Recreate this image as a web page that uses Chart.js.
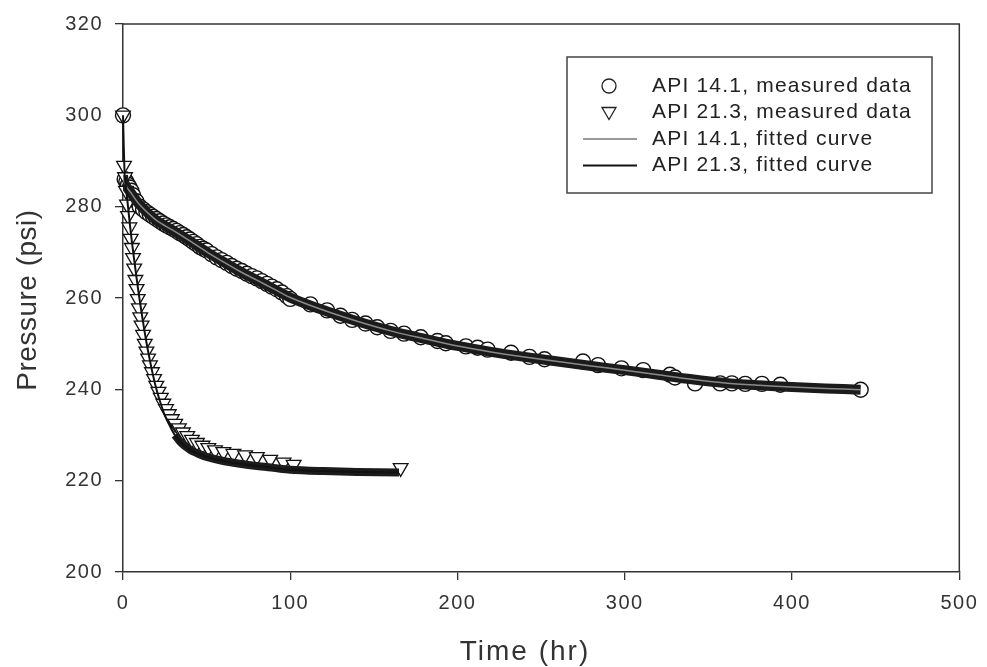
<!DOCTYPE html>
<html>
<head>
<meta charset="utf-8">
<script src="https://cdn.jsdelivr.net/npm/chart.js@4.4.1/dist/chart.umd.min.js"></script>
<style>
  html, body { margin: 0; padding: 0; background: #fff; }
  #wrap { width: 987px; height: 667px; }
</style>
</head>
<body>
<div id="wrap"><canvas id="chart" width="987" height="667"></canvas></div>
<script>
// Series names, in legend order
const legendLabels = [
  'API 14.1, measured data',
  'API 21.3, measured data',
  'API 14.1, fitted curve',
  'API 21.3, fitted curve'
];
const xTitle = 'Time (hr)';
const yTitle = 'Pressure (psi)';

// API 14.1 measured (time hr, pressure psi)
const api14Time = [0, 1, 2, 3, 4, 5, 6, 8, 10, 12, 14, 16, 18, 20, 22, 24, 26, 28, 30, 32, 34, 36, 38, 40, 42, 44, 46, 48, 50,
  53, 56, 59, 62, 65, 68, 71, 74, 77, 80, 83, 86, 89, 92, 95, 98, 100, 112, 122, 130, 137, 145, 152, 160, 168, 178, 188, 193,
  205, 212, 218, 232, 243, 252, 275, 284, 298, 311, 327, 330, 342, 357, 364, 372, 382, 393, 441];
const api14Pressure = [300, 286, 285.5, 284.8, 284.2, 283.5, 282.5, 281.2, 280, 279.4, 278.8, 278.3, 277.8, 277.3, 276.8, 276.3,
  275.9, 275.5, 275.1, 274.7, 274.2, 273.8, 273.3, 272.8, 272.3, 271.8, 271.2, 270.8, 270.4, 269.6, 268.9, 268.3, 267.7, 267,
  266.4, 265.9, 265.3, 264.8, 264.3, 263.7, 263.1, 262.5, 261.9, 261.2, 260.4, 259.8, 258.6, 257.3, 256.1, 255.2, 254.4, 253.6,
  252.8, 252.2, 251.4, 250.6, 250.1, 249.4, 249.1, 248.7, 248, 247.1, 246.6, 246.1, 245.3, 244.6, 244.2, 243.2, 242.6, 241.3,
  241.3, 241.3, 241.2, 241.2, 241, 239.9];

// API 21.3 measured
const api21Time = [0, 0.6, 1.2, 1.8, 2.4, 3, 3.8, 4.6, 5.3, 6, 6.7, 7.4, 8.1, 8.8, 9.5, 10.3, 11.1, 12, 13, 14, 15, 16.1, 17.3,
  18.6, 19.9, 21.2, 22.6, 24.1, 25.7, 27.4, 29.2, 31.2, 33.4, 35.8, 38.4, 41.2, 44.2, 47.5, 51, 55, 60, 66, 73, 80, 88, 96, 102, 166];
const api21Pressure = [300, 289, 286.5, 283.5, 280.5, 278, 275.5, 273, 271, 268.8, 266.5, 264, 262, 259.8, 257.8, 255.8, 254, 252,
  250, 248.3, 246.8, 245.3, 243.8, 242.3, 240.8, 239.5, 238.2, 236.9, 235.7, 234.6, 233.5, 232.5, 231.5, 230.6, 229.8, 229,
  228.3, 227.7, 227.2, 226.7, 226.3, 225.9, 225.6, 225.2, 224.6, 224, 223.5, 222.8];

// Fitted curves
const fit14Time = [0, 0.5, 2, 5, 10, 20, 30, 40, 50, 60, 70, 80, 90, 100, 120, 140, 160, 180, 200, 220, 240, 260, 280, 300,
  320, 340, 360, 380, 400, 420, 441];
const fit14Pressure = [286.8, 285.6, 284.4, 282.9, 280.4, 277, 274.8, 272.5, 270.1, 267.9, 265.8, 263.9, 262, 260.1, 257.3,
  254.9, 252.8, 251.1, 249.5, 248.2, 247.1, 246.1, 245.1, 244.2, 243.2, 242.2, 241.4, 240.9, 240.5, 240.2, 239.9];
const fit21Time = [0, 1, 2, 3, 4, 5, 6, 7, 8, 9, 10, 12, 14, 16, 18, 20, 22, 25, 28, 31, 35, 40, 45, 50, 60, 70, 80, 90, 100,
  120, 140, 165];
const fit21Pressure = [300, 287, 283.5, 280, 276.5, 273.3, 270.3, 267.5, 264.7, 262, 259.5, 254.7, 250.3, 246.5, 243, 240,
  237.5, 234.3, 232, 230, 228.2, 226.8, 225.9, 225.2, 224.3, 223.7, 223.2, 222.8, 222.4, 222.1, 221.9, 221.8];

const xTicks = [0, 100, 200, 300, 400, 500];
const yTicks = [200, 220, 240, 260, 280, 300, 320];

const toXY = (xs, ys) => xs.map((x, i) => ({ x, y: ys[i] }));

const FONT = '"Liberation Sans", Arial, sans-serif';

// wide-looking text like the scanned original
const spacingPlugin = {
  id: 'spacing',
  beforeDraw(chart) { chart.ctx.letterSpacing = '1.5px'; }
};

// frame (top/right), axis titles and the boxed legend inside the plot
const framePlugin = {
  id: 'frameAndLegend',
  afterDraw(chart) {
    const { ctx, chartArea: a } = chart;
    ctx.save();
    ctx.strokeStyle = '#333';
    ctx.lineWidth = 1.5;
    ctx.beginPath();
    ctx.moveTo(a.left, a.top);
    ctx.lineTo(a.right, a.top);
    ctx.lineTo(a.right, a.bottom);
    ctx.stroke();

    // axis titles
    ctx.fillStyle = '#333';
    ctx.textAlign = 'center';
    ctx.textBaseline = 'middle';
    ctx.font = '28px ' + FONT;
    ctx.letterSpacing = '2px';
    ctx.fillText(xTitle, 525, 652);
    ctx.save();
    ctx.translate(28, 300);
    ctx.rotate(-Math.PI / 2);
    ctx.letterSpacing = '0.5px';
    ctx.fillText(yTitle, 0, 0);
    ctx.restore();

    // legend box
    ctx.strokeStyle = '#444';
    ctx.lineWidth = 1.5;
    ctx.strokeRect(567, 57, 365, 136);
    ctx.font = '21px ' + FONT;
    ctx.letterSpacing = '1.2px';
    ctx.fillStyle = '#222';
    ctx.textAlign = 'left';
    ctx.textBaseline = 'middle';
    legendLabels.forEach((txt, i) => {
      const y = 86 + i * 26.5;
      ctx.fillText(txt, 652, y);
      ctx.lineWidth = 1.3;
      ctx.strokeStyle = '#222';
      if (i === 0) {
        ctx.beginPath();
        ctx.arc(609, y, 7, 0, Math.PI * 2);
        ctx.stroke();
      } else if (i === 1) {
        ctx.beginPath();
        ctx.moveTo(602, y - 5);
        ctx.lineTo(616, y - 5);
        ctx.lineTo(609, y + 7);
        ctx.closePath();
        ctx.stroke();
      } else {
        ctx.strokeStyle = i === 2 ? '#777' : '#111';
        ctx.lineWidth = i === 2 ? 1.5 : 2;
        ctx.beginPath();
        ctx.moveTo(583, y);
        ctx.lineTo(637, y);
        ctx.stroke();
      }
    });
    ctx.restore();
  }
};

const axisCommon = {
  type: 'linear',
  grid: { drawOnChartArea: false, drawTicks: true, tickLength: 8, color: '#333', lineWidth: 1.3 },
  border: { display: true, color: '#333', width: 1.5 },
};

// Chart.js paints higher "order" first, so the markers sit under the dark band and fits
new Chart(document.getElementById('chart'), {
  type: 'scatter',
  data: {
    datasets: [
      {
        label: legendLabels[0],
        data: toXY(api14Time, api14Pressure),
        order: 5,
        pointStyle: 'circle', pointRadius: 7.5,
        backgroundColor: '#fff', borderColor: '#111', borderWidth: 1.4,
        showLine: false, clip: false
      },
      {
        label: legendLabels[1],
        data: toXY(api21Time, api21Pressure),
        order: 4,
        pointStyle: 'triangle', rotation: 180, pointRadius: 8.5,
        backgroundColor: '#fff', borderColor: '#111', borderWidth: 1.3,
        showLine: false, clip: false
      },
      {
        // dark band left by the overlapping markers along the fit
        label: 'band14',
        data: toXY(fit14Time, fit14Pressure),
        order: 3,
        showLine: true, pointRadius: 0, borderColor: '#1b1b1b', borderWidth: 10, tension: 0.3
      },
      {
        label: 'band21',
        data: toXY(fit21Time.slice(19), fit21Pressure.slice(19)),
        order: 2,
        showLine: true, pointRadius: 0, borderColor: '#1b1b1b', borderWidth: 8, tension: 0.3
      },
      {
        label: legendLabels[2],
        data: toXY(fit14Time, fit14Pressure),
        order: 1,
        showLine: true, pointRadius: 0, borderColor: '#8a8a8a', borderWidth: 1.5, tension: 0.3
      },
      {
        label: legendLabels[3],
        data: toXY(fit21Time, fit21Pressure),
        order: 0,
        showLine: true, pointRadius: 0, borderColor: '#111', borderWidth: 2, tension: 0.3, clip: false
      }
    ]
  },
  options: {
    responsive: false,
    animation: false,
    layout: { padding: { top: 22, right: 26, left: 0, bottom: 0 } },
    plugins: {
      legend: { display: false },
      tooltip: { enabled: false }
    },
    scales: {
      x: {
        ...axisCommon,
        min: 0, max: 500,
        afterBuildTicks: (s) => { s.ticks = xTicks.map(v => ({ value: v })); },
        ticks: { color: '#333', font: { family: FONT, size: 20 }, padding: 11, maxRotation: 0 },
        afterFit: (s) => { s.height = 95; }
      },
      y: {
        ...axisCommon,
        min: 200, max: 320,
        afterBuildTicks: (s) => { s.ticks = yTicks.map(v => ({ value: v })); },
        ticks: { color: '#333', font: { family: FONT, size: 20 }, padding: 12 },
        afterFit: (s) => { s.width = 123; }
      }
    }
  },
  plugins: [spacingPlugin, framePlugin]
});
</script>
</body>
</html>
